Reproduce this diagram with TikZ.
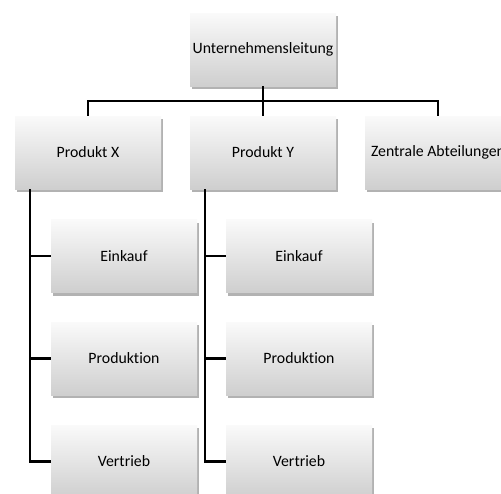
\documentclass[tikz,border=0pt]{standalone}
\usepackage{fontspec}
\setmainfont{Carlito}[Ligatures=NoCommon]
\usetikzlibrary{shadows}
\tikzset{
    orgbox/.style={rectangle, minimum width=146pt, minimum height=73pt, inner sep=0pt,
        top color=gray!4, bottom color=gray!38, draw=none,
        drop shadow={shadow xshift=2pt, shadow yshift=-3pt, opacity=0.3, fill=black},
        font=\fontsize{15.8}{19}\selectfont},
    orgline/.style={line width=2.2pt, black}
}
\begin{document}
\begin{tikzpicture}[x=1pt, y=-1pt]
    \useasboundingbox (0,0) rectangle (501,493);
    \clip (0,0) rectangle (501,493);
    % Leitung und erste Ebene
    \node[orgbox] (ul) at (263,49.5) {Unternehmensleitung};
    \node[orgbox] (px) at (88,152.5) {Produkt X};
    \node[orgbox] (py) at (263,152.5) {Produkt Y};
    \node[orgbox] (za) at (438,152.5) {Zentrale Abteilungen};
    % Abteilungen unter den Produkten
    \foreach \n/\txt/\y in {1/Einkauf/256, 2/Produktion/358.5, 3/Vertrieb/461.5}{
        \node[orgbox] (px\n) at (124,\y) {\txt};
        \node[orgbox] (py\n) at (299,\y) {\txt};
    }
    % Verbindungen
    \draw[orgline] (ul.south) -- ++(0,15) coordinate (bus);
    \draw[orgline] (px.north) |- (bus) -| (za.north);
    \draw[orgline] (bus) -- (py.north);
    \foreach \n in {1,2,3}{
        \draw[orgline] ([xshift=15pt]px.south west) |- (px\n.west);
        \draw[orgline] ([xshift=15pt]py.south west) |- (py\n.west);
    }
\end{tikzpicture}
\end{document}
